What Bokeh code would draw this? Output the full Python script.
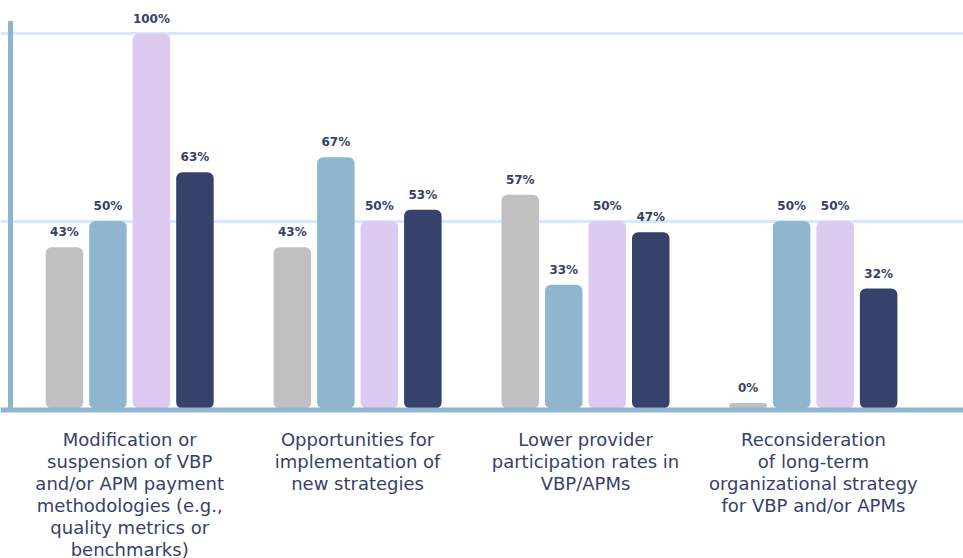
import numpy as np
from bokeh.plotting import figure
from bokeh.models import ColumnDataSource, FixedTicker, Span
from bokeh.core.properties import value
from bokeh.embed import file_html
from bokeh.resources import INLINE

# ---- data ----
categories = [
    "Modification or\nsuspension of VBP\nand/or APM payment\nmethodologies (e.g.,\nquality metrics or\nbenchmarks)",
    "Opportunities for\nimplementation of\nnew strategies",
    "Lower provider\nparticipation rates in\nVBP/APMs",
    "Reconsideration\nof long-term\norganizational strategy\nfor VBP and/or APMs",
]
series_a = [43, 43, 57, 0]    # gray
series_b = [50, 67, 33, 50]   # light blue
series_c = [100, 50, 50, 50]  # lavender
series_d = [63, 53, 47, 32]   # navy
grid_ticks = [50, 100]

colors = ["#c0c0c0", "#8fb6ce", "#dccaf0", "#37426c"]
text_color = "#36416b"
axis_color = "#8fb5cc"
grid_color = "#d5e9fb"

W, H = 963, 558
px_x = 227.9           # pixels per group
x0_px = 129.2          # pixel position of first group centre
px_y = 3.75            # pixels per percent
y0_px = 408.0          # pixel position (from top) of 0%

x_start = -x0_px / px_x
x_end = x_start + W / px_x
y_end = y0_px / px_y
y_start = -(H - y0_px) / px_y

p = figure(width=W, height=H, output_backend="svg", toolbar_location=None,
           x_range=(x_start, x_end), y_range=(y_start, y_end),
           min_border=0, min_border_left=0, min_border_right=0,
           min_border_top=0, min_border_bottom=0)
p.outline_line_color = None
p.xaxis.visible = False
p.yaxis.visible = False
p.xgrid.visible = False
p.ygrid.ticker = FixedTicker(ticks=grid_ticks)
p.ygrid.grid_line_color = grid_color
p.ygrid.grid_line_width = 3
p.background_fill_color = "white"
p.border_fill_color = "white"

step = 43.5 / px_x
bar_w = 37.5 / px_x
offsets = [-1.5, -0.5, 0.5, 1.5]
all_series = [series_a, series_b, series_c, series_d]
gx = np.arange(len(categories))

min_h = 5.5 / px_y
for s, off, col in zip(all_series, offsets, colors):
    vals = np.array(s, dtype=float)
    tops = np.maximum(vals, min_h)
    src = ColumnDataSource(dict(x=gx + off * step, top=tops,
                                label=[f"{v:g}%" for v in vals]))
    p.vbar(x="x", top="top", bottom=0, width=bar_w, source=src,
           fill_color=col, line_color=None, border_radius=6)
    p.text(x="x", y="top", text="label", source=src, text_align="center",
           text_baseline="middle", y_offset=-15, text_color=text_color,
           text_font=value("DejaVu Sans"), text_font_size="12px",
           text_font_style="bold")

# axes lines
p.add_layout(Span(location=-1.5 / px_y, dimension="width",
                  line_color=axis_color, line_width=5))
lx = x_start + 10 / px_x
p.segment(x0=[lx], y0=[-1.5 / px_y], x1=[lx], y1=[(y0_px - 20.5) / px_y],
          line_color=axis_color, line_width=5)

# category labels
p.text(x=gx, y=[-20 / px_y] * len(categories), text=categories,
       text_align="center", text_baseline="top", text_color=text_color,
       text_font=value("DejaVu Sans"), text_font_size="18px",
       text_line_height=1.05)

open("out.html", "w").write(file_html(p, INLINE))
